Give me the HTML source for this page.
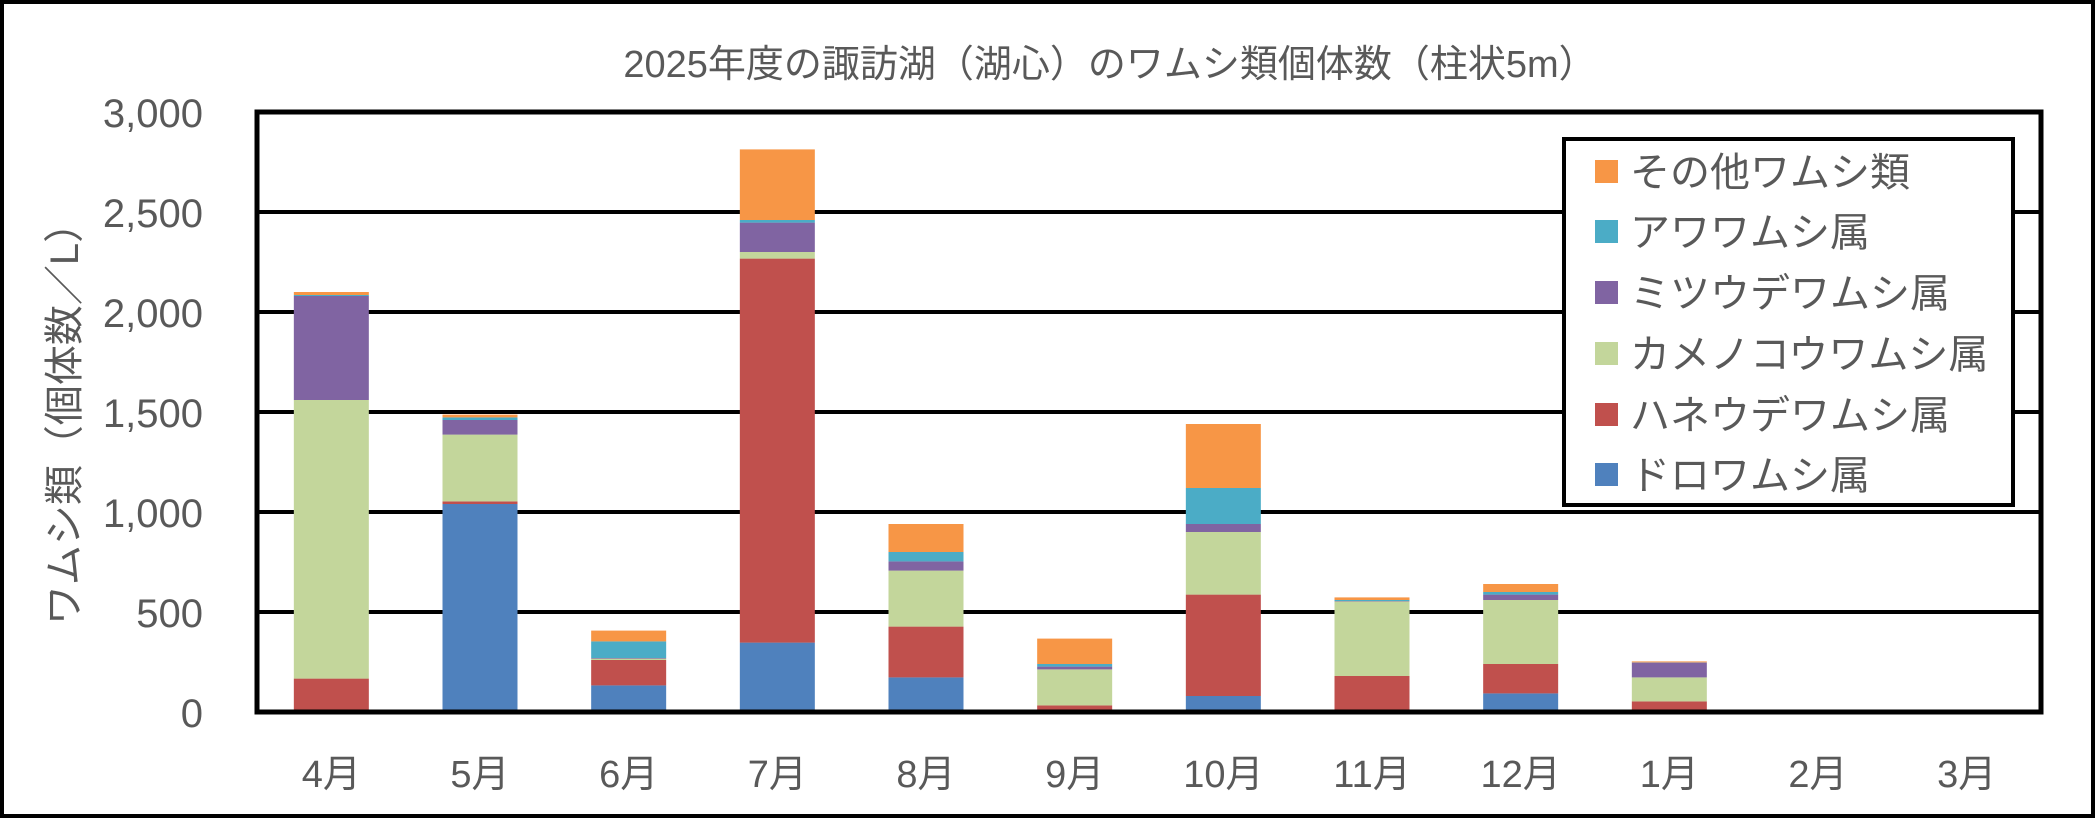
<!DOCTYPE html>
<html><head><meta charset="utf-8"><style>
html,body{margin:0;padding:0;background:#fff}
svg{display:block}
text{font-family:"Liberation Sans","Noto Sans CJK JP",sans-serif;fill:#595959}
</style></head><body>
<svg width="2095" height="818" viewBox="0 0 2095 818" xmlns="http://www.w3.org/2000/svg">
<rect x="2" y="2" width="2091" height="814" fill="#fff" stroke="#000" stroke-width="4"/>
<text x="1110" y="77" font-size="38" text-anchor="middle">2025年度の諏訪湖（湖心）のワムシ類個体数（柱状5m）</text>
<g stroke="#000" stroke-width="4">
<line x1="257" y1="212" x2="2041" y2="212"/>
<line x1="257" y1="312" x2="2041" y2="312"/>
<line x1="257" y1="412" x2="2041" y2="412"/>
<line x1="257" y1="512" x2="2041" y2="512"/>
<line x1="257" y1="612" x2="2041" y2="612"/>
</g>
<g font-size="40" text-anchor="end">
<text x="203" y="127">3,000</text>
<text x="203" y="227">2,500</text>
<text x="203" y="327">2,000</text>
<text x="203" y="427">1,500</text>
<text x="203" y="527">1,000</text>
<text x="203" y="627">500</text>
<text x="203" y="727">0</text>
</g>
<text transform="translate(78,414) rotate(-90)" font-size="40" text-anchor="middle">ワムシ類（個体数／L）</text>
<g id="bars"></g>
<rect x="257" y="112" width="1784" height="600" fill="none" stroke="#000" stroke-width="5"/>
<g font-size="38" text-anchor="middle" id="xl"></g>
<rect x="1564" y="139" width="449" height="366" fill="#fff" stroke="#000" stroke-width="4"/>
<g font-size="40">
<rect x="1595" y="160" width="23" height="23" fill="#F79646"/><text x="1630" y="186">その他ワムシ類</text>
<rect x="1595" y="220" width="23" height="23" fill="#4BACC6"/><text x="1630" y="246">アワワムシ属</text>
<rect x="1595" y="281" width="23" height="23" fill="#8064A2"/><text x="1630" y="307">ミツウデワムシ属</text>
<rect x="1595" y="342" width="23" height="23" fill="#C3D69B"/><text x="1630" y="368">カメノコウワムシ属</text>
<rect x="1595" y="403" width="23" height="23" fill="#C0504D"/><text x="1630" y="429">ハネウデワムシ属</text>
<rect x="1595" y="463" width="23" height="23" fill="#4F81BD"/><text x="1630" y="489">ドロワムシ属</text>
</g>
<script>
var d=[[0,167,1560,2080,2085,2100],[1040,1053,1387,1460,1473,1487],[133,260,267,270,353,407],[347,2267,2300,2447,2460,2813],[173,427,707,753,800,940],[5,33,213,227,240,367],[80,587,900,940,1120,1440],[0,180,553,555,560,573],[93,240,560,587,600,640],[5,53,173,247,248,253],[0,0,0,0,0,0],[0,0,0,0,0,0]];
var c=["#4F81BD","#C0504D","#C3D69B","#8064A2","#4BACC6","#F79646"];
var lb=["4月","5月","6月","7月","8月","9月","10月","11月","12月","1月","2月","3月"];
var ns="http://www.w3.org/2000/svg",g=document.getElementById("bars"),xl=document.getElementById("xl");
var w=1784/12;
for(var i=0;i<12;i++){var cx=257+w*(i+0.5),p=0;
for(var k=0;k<6;k++){var v=d[i][k];if(v>p){var r=document.createElementNS(ns,"rect");
var y1=712-v*0.2,y0=712-p*0.2;r.setAttribute("x",cx-37.5);r.setAttribute("width",75);r.setAttribute("y",y1);r.setAttribute("height",y0-y1);r.setAttribute("fill",c[k]);g.appendChild(r);p=v;}}
var t=document.createElementNS(ns,"text");t.setAttribute("x",cx);t.setAttribute("y",787);t.textContent=lb[i];xl.appendChild(t);}
</script>
</svg>
</body></html>
